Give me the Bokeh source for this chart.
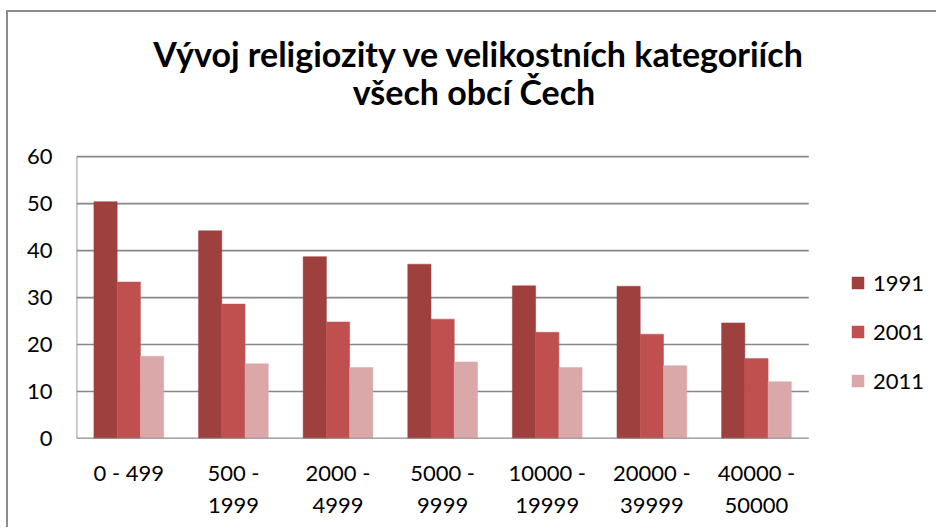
from bokeh.plotting import figure
from bokeh.models import ColumnDataSource, Range1d, Legend, LegendItem, LinearAxis, FixedTicker, Label
from bokeh.transform import dodge
from bokeh.embed import file_html
from bokeh.resources import INLINE

categories = ["0 - 499", "500 - 1999", "2000 - 4999", "5000 - 9999", "10000 - 19999", "20000 - 39999", "40000 - 50000"]
label_line1 = ["0 - 499", "500 -", "2000 -", "5000 -", "10000 -", "20000 -", "40000 -"]
label_line2 = ["", "1999", "4999", "9999", "19999", "39999", "50000"]
series_names = ["1991", "2001", "2011"]
v1991 = [50.4, 44.2, 38.7, 37.1, 32.5, 32.4, 24.6]
v2001 = [33.3, 28.6, 24.8, 25.4, 22.6, 22.2, 17.0]
v2011 = [17.5, 15.9, 15.1, 16.3, 15.1, 15.5, 12.1]
y_ticks = [0, 10, 20, 30, 40, 50, 60]
title_lines = ["Vývoj religiozity ve velikostních kategoriích", "všech obcí Čech"]

colors = ["#9E403E", "#C0504F", "#DAA8A8"]
GRID = "#888888"
FONT = "Lato"

n = len(categories)
xs = list(range(n))
y_max = y_ticks[-1]
src = ColumnDataSource(dict(x=xs, cat=categories, v1991=v1991, v2001=v2001, v2011=v2011))

# the frame covers the title and legend area too; the value area is 0..60
p = figure(
    x_range=Range1d(-0.5, 7.74), y_range=Range1d(0, 86.4),
    width=930, height=517, output_backend="svg", toolbar_location=None,
    min_border_left=68, min_border_right=0, min_border_top=20, min_border_bottom=91,
    styles={"border-left": "2px solid #8c8c8c", "border-top": "2px solid #8c8c8c",
            "margin-left": "6px", "margin-top": "10px"},
)
p.title.text = ""
p.title.standoff = 0
p.outline_line_color = None
p.background_fill_color = "white"
p.border_fill_color = "white"
p.xgrid.grid_line_color = None
p.ygrid.grid_line_color = None

# horizontal gridlines over the category area only
p.segment(x0=[-0.5] * len(y_ticks), x1=[n - 0.5] * len(y_ticks), y0=y_ticks, y1=y_ticks,
          line_color=GRID, line_width=1.7)

w = 1 / 4.5
renderers = []
for i, col in enumerate(["v1991", "v2001", "v2011"]):
    r = p.vbar(x=dodge("x", (i - 1) * w), top=col, width=w, source=src,
               fill_color=colors[i], line_color=colors[i], line_width=0.5)
    renderers.append(r)

# axis lines (value axis 0..60, category baseline)
p.segment(x0=[-0.5], x1=[n - 0.5], y0=[0], y1=[0], line_color=GRID, line_width=1.7)
p.segment(x0=[-0.5], x1=[-0.5], y0=[0], y1=[y_max], line_color=GRID, line_width=1.7)

# title, two centered lines
for txt, yy, xx in [(title_lines[0], 81.9, 3.35), (title_lines[1], 73.8, 3.30)]:
    p.add_layout(Label(x=xx, y=yy, text=txt, text_align="center", text_baseline="alphabetic",
                       text_font=FONT, text_font_size="34px", text_font_style="bold",
                       text_color="black"))

# y axis
p.yaxis.ticker = FixedTicker(ticks=y_ticks)
p.yaxis.major_tick_line_color = None
p.yaxis.minor_tick_line_color = None
p.yaxis.axis_line_color = None
p.yaxis.major_label_text_font = FONT
p.yaxis.major_label_text_font_size = "22px"
p.yaxis.major_label_text_color = "black"
p.yaxis.major_label_standoff = 18

# x axis: two stacked axes give the two-line category labels
xa = p.xaxis[0]
xa2 = LinearAxis()
p.add_layout(xa2, "below")
for ax, labels in [(xa, label_line1), (xa2, label_line2)]:
    ax.ticker = FixedTicker(ticks=xs)
    ax.major_label_overrides = {i: l for i, l in zip(xs, labels)}
    ax.major_tick_line_color = None
    ax.minor_tick_line_color = None
    ax.axis_line_color = None
    ax.major_label_text_font = FONT
    ax.major_label_text_font_size = "22px"
    ax.major_label_text_color = "black"
xa.major_label_standoff = 14
xa2.major_label_standoff = 3

legend = Legend(items=[LegendItem(label=s, renderers=[r]) for s, r in zip(series_names, renderers)],
                location=(774, 44))
legend.border_line_color = None
legend.background_fill_alpha = 0
legend.padding = 0
legend.margin = 0
legend.glyph_width = 15
legend.glyph_height = 15
legend.label_height = 26
legend.label_standoff = 8
legend.spacing = 22
legend.label_text_font = FONT
legend.label_text_font_size = "22px"
legend.label_text_color = "black"
p.add_layout(legend)

open("out.html", "w").write(file_html(p, INLINE))
